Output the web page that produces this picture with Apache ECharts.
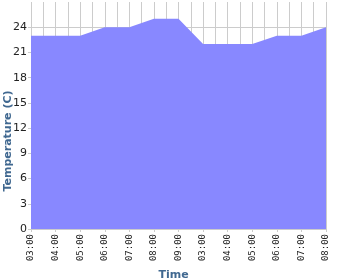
<!DOCTYPE html>
<html><head><meta charset="utf-8">
<script src="https://cdn.jsdelivr.net/npm/echarts@6/dist/echarts.min.js"></script>
<style>html,body{margin:0;padding:0;background:#fff}#c{width:350px;height:280px}</style>
</head><body><div id="c"></div>
<script>
var categories = ['03:00','04:00','05:00','06:00','07:00','08:00','09:00','03:00','04:00','05:00','06:00','07:00','08:00'];
var temperature = [23,23,23,24,24,25,25,22,22,22,23,23,24];
var yTicks = [0,3,6,9,12,15,18,21,24];
var yMin = 0, yMax = 27, yStep = 3;
var yName = 'Temperature (C)';

var chart = echarts.init(document.getElementById('c'), null, {renderer:'canvas'});
var gridColors = [];
for (var v = yMin; v <= yMax; v += yStep) gridColors.push(v === yMax ? 'rgba(0,0,0,0)' : '#cccccc');
chart.setOption({
  animation:false,
  grid:{left:31,right:24,top:2,bottom:51,containLabel:false,outerBoundsMode:'none'},
  graphic:[{
    type:'text', x:8, y:141, rotation:Math.PI/2,
    style:{text:yName, fontFamily:'DejaVu Sans', fontWeight:'bold', fontSize:11, fill:'#406890',
      align:'center', verticalAlign:'middle'}
  }],
  xAxis:[{
    type:'category', data:categories, boundaryGap:false,
    axisLine:{show:false},
    axisTick:{show:true,length:3,lineStyle:{color:'#cccccc'}},
    axisLabel:{rotate:90,interval:0,margin:5,fontFamily:'DejaVu Sans Mono',fontSize:9,color:'#222'},
    splitLine:{show:false},
    name:'Time', nameLocation:'middle', nameGap:41,
    nameTextStyle:{fontFamily:'DejaVu Sans',fontWeight:'bold',fontSize:11,color:'#406890',padding:[0,10,0,0]}
  },{
    type:'value', min:0, max:categories.length-1, interval:0.5, show:true,
    axisLine:{show:false},axisTick:{show:false},axisLabel:{show:false},
    splitLine:{show:true,lineStyle:{color:'#cccccc',width:1}}
  }],
  yAxis:{
    type:'value', min:yMin, max:yMax, interval:yStep,
    axisLine:{show:false},
    axisTick:{show:true,length:3,lineStyle:{color:'#cccccc'},customValues:yTicks},
    axisLabel:{margin:4,fontFamily:'DejaVu Sans',fontSize:11,color:'#222',customValues:yTicks},
    splitLine:{show:true,lineStyle:{color:gridColors,width:1}}
  },
  series:[{
    type:'line', data:temperature, xAxisIndex:0, yAxisIndex:0,
    symbol:'none', showSymbol:false,
    lineStyle:{width:0,color:'#8888ff'},
    areaStyle:{color:'#8888ff',opacity:1},
    z:3
  }]
});
</script></body></html>
